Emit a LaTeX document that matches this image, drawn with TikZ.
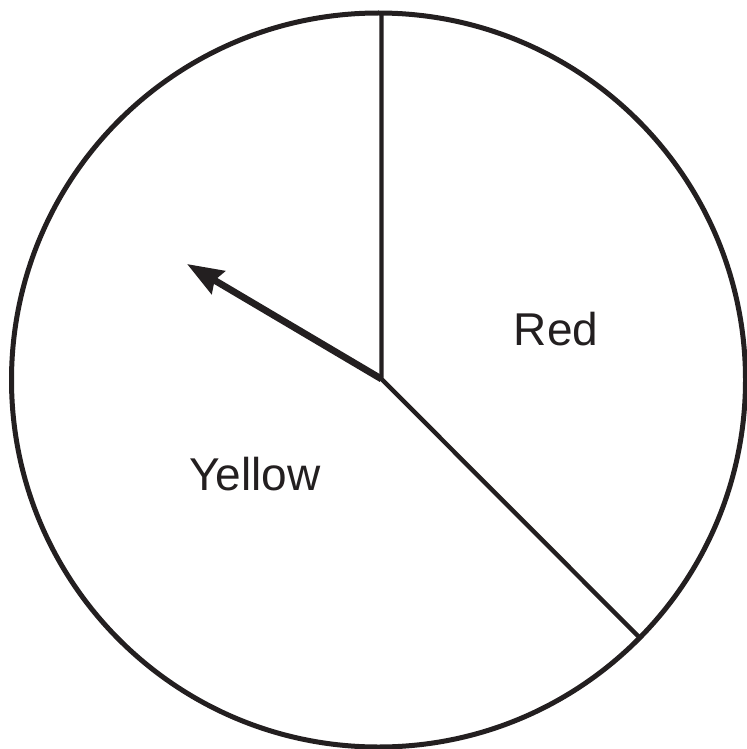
\documentclass[tikz,border=0pt]{standalone}
\usepackage{fontspec}
\setmainfont{Liberation Sans}
\usetikzlibrary{arrows.meta}
\definecolor{ink}{HTML}{231F20}

\begin{document}
\begin{tikzpicture}[x=0.5pt, y=-0.5pt, >=Stealth,
  rim/.style={draw=ink, line width=2.5pt},
  spoke/.style={draw=ink, line width=2.2pt},
  pointer/.style={draw=ink, line width=3.4pt, -{Stealth[length=18pt, width=13pt, inset=2pt]}},
  sector/.style={text=ink, font=\fontsize{23}{27}\selectfont, anchor=base}]

  \useasboundingbox (0,0) rectangle (746,749);

  % ---- spinner: outer rim and the two dividing spokes ----
  \draw[rim] (378.5,380) circle [radius=367];

  \coordinate (hub) at (381.5,379);
  \coordinate (top) at (381.5,13);
  \coordinate (cut) at (640,638);
  \coordinate (tip) at (187,264);

  \draw[spoke] (top) -- (hub) -- (cut);

  % ---- the pointer ----
  \draw[pointer] (hub) -- (tip);

  % ---- sector labels ----
  \node[sector] (red) at (556,345) {Red};
  \node[sector] (yellow) at (255,490) {Yellow};

\end{tikzpicture}
\end{document}
